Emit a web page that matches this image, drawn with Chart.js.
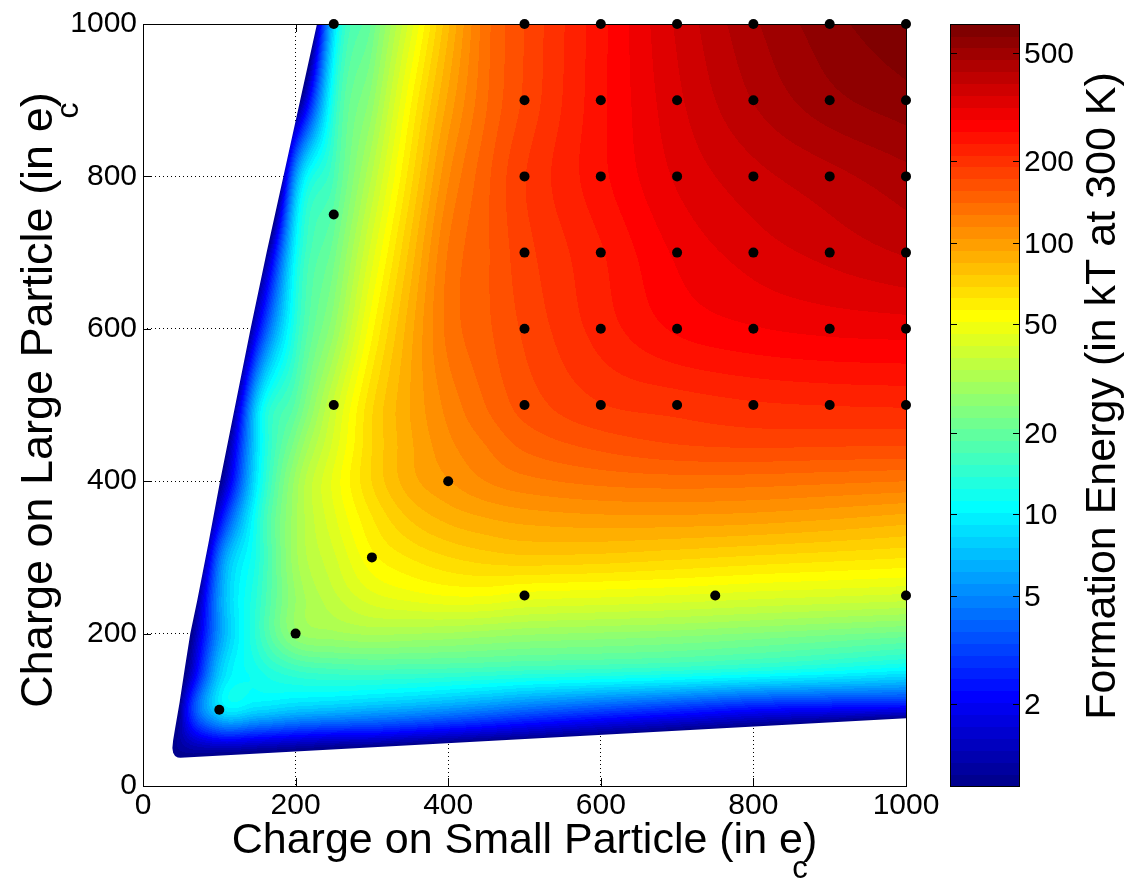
<!DOCTYPE html>
<html>
<head>
<meta charset="utf-8">
<script src="https://cdn.jsdelivr.net/npm/chart.js@4.4.1/dist/chart.umd.min.js"></script>
<style>
  html, body { margin: 0; padding: 0; background: #fff; }
  canvas { display: block; }
</style>
</head>
<body>
<canvas id="chart" width="1125" height="879"></canvas>
<script>
// Charges (in e_c) at which the formation energy is tabulated
const smallChargeGrid = [0, 50, 100, 150, 200, 250, 300, 350, 400, 450, 500, 600, 700, 800, 900, 1000];
const largeChargeGrid = [0, 50, 100, 150, 200, 250, 300, 350, 400, 450, 500, 600, 700, 800, 900, 1000];

// Formation energy in kT at 300 K: one row per large-particle charge (ascending),
// one column per small-particle charge. Values below 1 kT lie outside the stable region.
const energy0    = [-1.3, 0.37, -0.5, -0.68, -0.76, -0.89, -2, -2, -2, -2, -2, -2, -2, -2, -2, -2];
const energy50   = [0.45, 1.15, 1.37, 1.26, 1.14, 1.03, 0.93, 0.82, 0.72, 0.62, 0.53, 0.34, 0.15, -0.04, -0.43, -1.18];
const energy100  = [-4.3, 1.25, 8.5, 8.5, 7.5, 7.0, 6.4, 5.9, 5.3, 4.7, 4.1, 3.3, 2.7, 2.2, 2.0, 1.85];
const energy150  = [-1.57, 0.73, 7.5, 12, 15, 16, 16.2, 16, 15.7, 15.3, 14.8, 14.2, 13.4, 12.3, 11.1, 9.8];
const energy200  = [-2.03, 0.34, 5.5, 14.5, 27, 30, 31.5, 31, 30.5, 29.5, 28.5, 27.5, 26.5, 25, 23.5, 22];
const energy250  = [-3.4, -0.34, 5.5, 14, 28, 37, 45, 49, 51.5, 51.5, 49, 47.5, 46, 44, 42.5, 41];
const energy300  = [-5.2, -1.38, 4.3, 13, 30, 41, 55, 63, 69, 73, 75, 74, 71, 68, 65.5, 63];
const energy350  = [-5.2, -1.77, 2.0, 12.5, 30, 45, 62, 77, 87, 93, 97, 100, 100, 98, 94, 89];
const energy400  = [-3.75, -1.4, 0.95, 10, 29, 47.5, 69.5, 90, 103, 115, 123, 131, 134, 133, 130, 127];
const energy450  = [-5.26, -2.44, 0.38, 9.0, 24, 43, 69, 92, 112, 128, 145, 162, 173, 177, 176, 175];
const energy500  = [-7.8, -4.15, -0.52, 8.2, 19.2, 39, 68, 94, 119, 141, 162, 189, 198, 207, 211, 213];
const energy600  = [-9.8, -6.0, -2.16, 2.0, 13.6, 27.4, 55, 90, 131, 152, 175, 220, 262, 282, 293, 298];
const energy700  = [-9.1, -6.0, -2.87, 0.25, 10.7, 21.9, 44, 79, 128, 153, 183, 230, 290, 330, 360, 390];
const energy800  = [-18.6, -13.3, -7.95, -2.62, 5.5, 16.9, 34.4, 66, 113, 151, 189, 250, 320, 372, 412, 455];
const energy900  = [-11, -8.1, -5.2, -2.26, 0.65, 13, 26.7, 55, 96, 139, 175, 250, 340, 428, 505, 555];
const energy1000 = [-21.2, -16.3, -11.4, -6.58, -1.72, 8.5, 21, 43.5, 83, 135, 172, 249, 354, 463, 556, 630];
const energyRows = [energy0, energy50, energy100, energy150, energy200, energy250, energy300, energy350,
                    energy400, energy450, energy500, energy600, energy700, energy800, energy900, energy1000];

// Outline of the stable region (small charge, large charge), anticlockwise from the top-left corner
const boundarySmall = [228, 206, 184, 162, 141, 121, 101, 86, 71, 62, 55, 48, 42, 39.5, 38.5, 39.5, 42, 45.5, 49, 1000, 1000];
const boundaryLarge = [1000, 900, 800, 700, 600, 500, 400, 320, 243, 200, 156, 110, 75, 60, 50, 43.5, 39.5, 37.5, 37, 89, 1000];

// Simulated configurations (small charge, large charge)
const simSmall = [250, 500, 600, 700, 800, 900, 1000,
                  500, 600, 700, 800, 900, 1000,
                  500, 600, 700, 800, 900, 1000,
                  250,
                  500, 600, 700, 800, 900, 1000,
                  500, 600, 700, 800, 900, 1000,
                  250, 500, 600, 700, 800, 900, 1000,
                  400, 300, 500, 750, 1000, 200, 100];
const simLarge = [1000, 1000, 1000, 1000, 1000, 1000, 1000,
                  900, 900, 900, 900, 900, 900,
                  800, 800, 800, 800, 800, 800,
                  750,
                  700, 700, 700, 700, 700, 700,
                  600, 600, 600, 600, 600, 600,
                  500, 500, 500, 500, 500, 500, 500,
                  400, 300, 250, 250, 250, 200, 100];

const axisTicks = [0, 200, 400, 600, 800, 1000];
const colorbarTicks = [2, 5, 10, 20, 50, 100, 200, 500];
const colorbarRange = [1, 638];

const FONT = "'Liberation Sans', Arial, Helvetica, sans-serif";

// 64-step jet colormap
const jet = [];
for (let i = 1; i <= 64; i++) {
  let r, g, b;
  if (i <= 8)       { r = 0; g = 0; b = 0.5 + i / 16; }
  else if (i <= 24) { r = 0; g = (i - 8) / 16; b = 1; }
  else if (i <= 40) { r = (i - 24) / 16; g = 1; b = 1 - (i - 24) / 16; }
  else if (i <= 56) { r = 1; g = 1 - (i - 40) / 16; b = 0; }
  else              { r = 1 - (i - 56) / 16; g = 0; b = 0; }
  jet.push([Math.round(r * 255), Math.round(g * 255), Math.round(b * 255)]);
}
const logMin = Math.log10(colorbarRange[0]);
const logMax = Math.log10(colorbarRange[1]);

// Energies are interpolated on a log scale above 1 kT, continued linearly below it
const toLog = e => (e >= 1 ? Math.log10(e) : (e - 1) / Math.LN10);
const logRows = energyRows.map(r => r.map(toLog));

function levelOfLog(w) {
  if (w <= logMin) return 0;
  const t = (w - logMin) / (logMax - logMin);
  return Math.max(0, Math.min(63, Math.floor(t * 64)));
}

// Cubic Hermite (Catmull-Rom style) weights on a non-uniform grid
function hermiteWeights(grid, v) {
  const n = grid.length;
  let c = 0;
  while (c < n - 2 && v > grid[c + 1]) c++;
  const h = grid[c + 1] - grid[c];
  const s = Math.max(0, Math.min(1, (v - grid[c]) / h));
  const s2 = s * s, s3 = s2 * s;
  const h00 = 2 * s3 - 3 * s2 + 1, h10 = s3 - 2 * s2 + s, h01 = -2 * s3 + 3 * s2, h11 = s3 - s2;
  const w = new Map();
  const add = (i, val) => w.set(i, (w.get(i) || 0) + val);
  add(c, h00); add(c + 1, h01);
  // slope at node c
  const lo = Math.max(0, c - 1), hi = c + 1;
  const kc = h * h10 / (grid[hi] - grid[lo]);
  add(hi, kc); add(lo, -kc);
  // slope at node c+1
  const lo2 = c, hi2 = Math.min(n - 1, c + 2);
  const kc1 = h * h11 / (grid[hi2] - grid[lo2]);
  add(hi2, kc1); add(lo2, -kc1);
  return Array.from(w.entries());
}

function drawField(chart) {
  const { ctx, chartArea: a, scales: { x, y } } = chart;
  const L = Math.round(a.left), T = Math.round(a.top);
  const W = Math.round(a.right) - L, H = Math.round(a.bottom) - T;
  const off = document.createElement('canvas');
  off.width = W; off.height = H;
  const octx = off.getContext('2d');
  const img = octx.createImageData(W, H);
  const cols = [], rows = [];
  for (let i = 0; i < W; i++) cols.push(hermiteWeights(smallChargeGrid, x.getValueForPixel(L + i + 0.5)));
  for (let j = 0; j < H; j++) rows.push(hermiteWeights(largeChargeGrid, y.getValueForPixel(T + j + 0.5)));
  const d = img.data;
  for (let j = 0; j < H; j++) {
    const wy = rows[j];
    // interpolate along the large-charge direction first, for every grid column
    const line = new Float64Array(smallChargeGrid.length);
    for (const [r, wr] of wy) {
      const row = logRows[r];
      for (let c = 0; c < line.length; c++) line[c] += wr * row[c];
    }
    for (let i = 0; i < W; i++) {
      let w = 0;
      for (const [c, wc] of cols[i]) w += wc * line[c];
      const col = jet[levelOfLog(w)];
      const k = (j * W + i) * 4;
      d[k] = col[0]; d[k + 1] = col[1]; d[k + 2] = col[2]; d[k + 3] = 255;
    }
  }
  octx.putImageData(img, 0, 0);
  // only the stable region is filled
  ctx.save();
  ctx.beginPath();
  boundarySmall.forEach((s, i) => {
    const px = x.getPixelForValue(s), py = y.getPixelForValue(boundaryLarge[i]);
    if (i === 0) ctx.moveTo(px, py); else ctx.lineTo(px, py);
  });
  ctx.closePath();
  ctx.clip();
  ctx.drawImage(off, L, T);
  ctx.restore();
}

function drawSubscriptedText(ctx, main, sub, tail, cx, baseY, size) {
  ctx.font = size + 'px ' + FONT;
  const whole = ctx.measureText(main + tail).width;
  const wMain = ctx.measureText(main).width;
  const wLast = ctx.measureText(main.slice(-1)).width;
  const x0 = cx - whole / 2;
  ctx.textAlign = 'left';
  ctx.textBaseline = 'alphabetic';
  ctx.fillText(main + tail, x0, baseY);
  ctx.font = Math.round(size * 0.72) + 'px ' + FONT;
  ctx.fillText(sub, x0 + wMain - wLast * 0.45, baseY + size * 0.58);
}

const energyMap = {
  id: 'energyMap',
  beforeDraw(chart) {
    const ctx = chart.ctx;
    ctx.save();
    ctx.fillStyle = '#fff';
    ctx.fillRect(0, 0, chart.width, chart.height);
    ctx.restore();
  },
  beforeDatasetsDraw(chart) {
    const { ctx, chartArea: a, scales: { x, y } } = chart;
    ctx.save();
    // inward tick marks on all four sides
    ctx.strokeStyle = '#000';
    ctx.lineWidth = 1;
    const tl = 8;
    ctx.beginPath();
    axisTicks.forEach(v => {
      const px = Math.round(x.getPixelForValue(v)) + 0.5;
      ctx.moveTo(px, a.bottom); ctx.lineTo(px, a.bottom - tl);
      ctx.moveTo(px, a.top); ctx.lineTo(px, a.top + tl);
      const py = Math.round(y.getPixelForValue(v)) + 0.5;
      ctx.moveTo(a.left, py); ctx.lineTo(a.left + tl, py);
      ctx.moveTo(a.right, py); ctx.lineTo(a.right - tl, py);
    });
    ctx.stroke();
    // filled energy map
    drawField(chart);
    // axes box
    ctx.strokeStyle = '#000';
    ctx.lineWidth = 1;
    ctx.strokeRect(Math.round(a.left) + 0.5, Math.round(a.top) + 0.5,
                   Math.round(a.right) - Math.round(a.left), Math.round(a.bottom) - Math.round(a.top));
    ctx.restore();
  },
  afterDraw(chart) {
    const { ctx, chartArea: a } = chart;
    ctx.save();
    ctx.fillStyle = '#000';
    // axis titles
    const cx = (a.left + a.right) / 2;
    drawSubscriptedText(ctx, 'Charge on Small Particle (in e', 'c', ')', cx, 853, 43);
    ctx.save();
    ctx.translate(52, 400);
    ctx.rotate(-Math.PI / 2);
    drawSubscriptedText(ctx, 'Charge on Large Particle (in e', 'c', ')', 0, 0, 45);
    ctx.restore();

    // colorbar
    const bx0 = 950, bx1 = 1020, by0 = Math.round(a.top), by1 = Math.round(a.bottom);
    const bandH = (by1 - by0) / 64;
    for (let k = 0; k < 64; k++) {
      const c = jet[k];
      ctx.fillStyle = 'rgb(' + c[0] + ',' + c[1] + ',' + c[2] + ')';
      const yTop = by1 - (k + 1) * bandH;
      ctx.fillRect(bx0, Math.floor(yTop), bx1 - bx0, Math.ceil(bandH) + 1);
    }
    ctx.strokeStyle = '#000';
    ctx.lineWidth = 1;
    ctx.strokeRect(bx0 + 0.5, by0 + 0.5, bx1 - bx0 - 1, by1 - by0);
    ctx.fillStyle = '#000';
    ctx.font = '30px ' + FONT;
    ctx.textAlign = 'left';
    ctx.textBaseline = 'middle';
    ctx.beginPath();
    colorbarTicks.forEach(v => {
      const py = Math.round(by1 - (Math.log10(v) - logMin) / (logMax - logMin) * (by1 - by0)) + 0.5;
      ctx.moveTo(bx0, py); ctx.lineTo(bx0 + 7, py);
      ctx.moveTo(bx1, py); ctx.lineTo(bx1 - 7, py);
      ctx.fillText(String(v), 1024, py + 1);
    });
    ctx.stroke();
    // colorbar title
    ctx.save();
    ctx.translate(1115, 396);
    ctx.rotate(-Math.PI / 2);
    ctx.font = '43px ' + FONT;
    ctx.textAlign = 'center';
    ctx.textBaseline = 'alphabetic';
    ctx.fillText('Formation Energy (in kT at 300 K)', 0, 0);
    ctx.restore();
    ctx.restore();
  }
};

const tickFont = { family: FONT, size: 30 };
const points = simSmall.map((s, i) => ({ x: s, y: simLarge[i] }));

new Chart(document.getElementById('chart'), {
  type: 'scatter',
  data: {
    datasets: [{
      data: points,
      pointRadius: 5,
      pointHoverRadius: 5,
      pointBackgroundColor: '#000',
      pointBorderWidth: 0,
      clip: false
    }]
  },
  options: {
    responsive: false,
    animation: false,
    devicePixelRatio: 1,
    events: [],
    layout: { padding: { left: 0, right: 219, top: 22, bottom: 0 } },
    plugins: { legend: { display: false }, tooltip: { enabled: false } },
    scales: {
      x: {
        type: 'linear', min: 0, max: 1000,
        afterFit: s => { s.height = 93; },
        afterBuildTicks: s => { s.ticks = axisTicks.map(v => ({ value: v })); },
        ticks: { color: '#000', font: tickFont, padding: 2, maxRotation: 0, callback: v => String(v) },
        grid: { color: '#000', lineWidth: 1, drawTicks: false },
        border: { display: false, dash: [1, 3] }
      },
      y: {
        type: 'linear', min: 0, max: 1000,
        afterFit: s => { s.width = 143; },
        afterBuildTicks: s => { s.ticks = axisTicks.map(v => ({ value: v })); },
        ticks: { color: '#000', font: tickFont, padding: 6, callback: v => String(v) },
        grid: { color: '#000', lineWidth: 1, drawTicks: false },
        border: { display: false, dash: [1, 3] }
      }
    }
  },
  plugins: [energyMap]
});
</script>
</body>
</html>
